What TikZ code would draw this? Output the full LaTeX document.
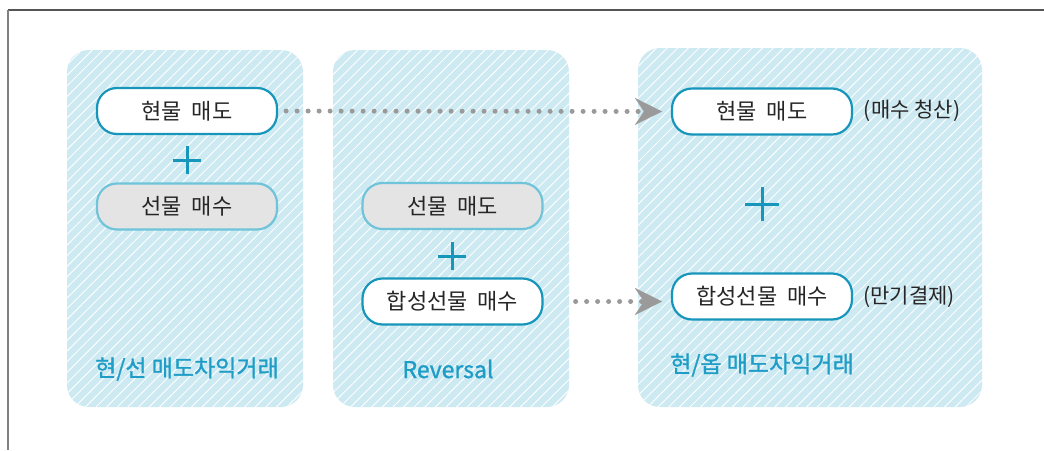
\documentclass[tikz,border=0pt]{standalone}
\usepackage{fontspec}
\setmainfont{Noto Sans CJK KR}
\newfontfamily\krbold[FakeBold=1.2]{Noto Sans CJK KR}
\usetikzlibrary{arrows.meta,patterns.meta,calc}
\definecolor{panelblue}{HTML}{CDE9F2}
\definecolor{darkcyan}{HTML}{1796BB}
\definecolor{lightcyan}{HTML}{6FC4D9}
\definecolor{boxgray}{HTML}{E4E4E4}
\definecolor{labelcyan}{HTML}{1F9DC6}
\definecolor{dotgray}{HTML}{9A9A9A}
\definecolor{framegray}{HTML}{555555}
\tikzset{
  panel/.style={rounded corners=22pt, preaction={fill=panelblue},
    pattern={Lines[angle=45,distance=7.5pt,line width=1pt]}, pattern color=white!92!panelblue,
    inner sep=0pt},
  whitebox/.style={draw=darkcyan, line width=2.2pt, fill=white, rounded corners=20pt,
    minimum width=180pt, minimum height=46pt, inner sep=0pt,
    font=\fontsize{22}{24}\selectfont, text=black!85},
  graybox/.style={draw=lightcyan, line width=2.2pt, fill=boxgray, rounded corners=20pt,
    minimum width=180pt, minimum height=46pt, inner sep=0pt,
    font=\fontsize{22}{24}\selectfont, text=black!85},
  plusline/.style={draw=darkcyan, line width=3pt},
  grouplabel/.style={text=labelcyan, font=\krbold\fontsize{23}{25}\selectfont},
  note/.style={text=black!85, font=\fontsize{21}{23}\selectfont},
  dotline/.style={draw=dotgray, line width=5pt, line cap=round, dash pattern=on 0pt off 11pt,
    -{Stealth[length=27pt,width=27pt,inset=9pt,line width=0.1pt,fill=dotgray,color=dotgray]}},
}
\begin{document}
\begin{tikzpicture}[x=1pt,y=-1pt]
\useasboundingbox (0,0) rectangle (1044,450);
% frame
\draw[framegray, line width=1.6pt] (8,10) -- (1044,10);
\draw[gray, line width=2pt] (8,10) -- (8,450);
% panels
\path[panel] (67,50) rectangle (303,407);
\path[panel] (333,50) rectangle (569,407);
\path[panel] (638,48) rectangle (982,407);
% panel 1
\node[whitebox] (s1) at (187,111) {현물\ \ 매도};
\node[graybox] (f1) at (187,206.5) {선물\ \ 매수};
\coordinate (p1) at (187,160);
\draw[plusline] ($(p1)+(-14,0)$) -- ($(p1)+(14,0)$) ($(p1)+(0,-14)$) -- ($(p1)+(0,14)$);
\node[grouplabel] (l1) at (187,369) {현/선\ 매도차익거래};
% panel 2
\node[graybox] (f2) at (452.5,206) {선물\ \ 매도};
\node[whitebox] (g2) at (452.5,301.5) {합성선물\ \ 매수};
\coordinate (p2) at (452,256);
\draw[plusline] ($(p2)+(-14,0)$) -- ($(p2)+(14,0)$) ($(p2)+(0,-14)$) -- ($(p2)+(0,14)$);
\node[grouplabel] (l2) at (448,369) {Reversal};
% panel 3
\node[whitebox] (s3) at (762,111.5) {현물\ \ 매도};
\node[whitebox] (g3) at (762,296.5) {합성선물\ \ 매수};
\coordinate (p3) at (762,204);
\draw[plusline] ($(p3)+(-17,0)$) -- ($(p3)+(17,0)$) ($(p3)+(0,-17)$) -- ($(p3)+(0,17)$);
\node[note] (n1) at (912,111) {(매수 청산)};
\node[note] (n2) at (909,297) {(만기결제)};
\node[grouplabel] (l3) at (762,365) {현/옵\ 매도차익거래};
% connectors
\draw[dotline, shorten <=8pt, shorten >=9pt] (s1.east) -- (s3.west);
\draw[dotline, shorten <=32pt, shorten >=9pt] (g2.east) -- (g2.east -| g3.west);
\end{tikzpicture}
\end{document}
